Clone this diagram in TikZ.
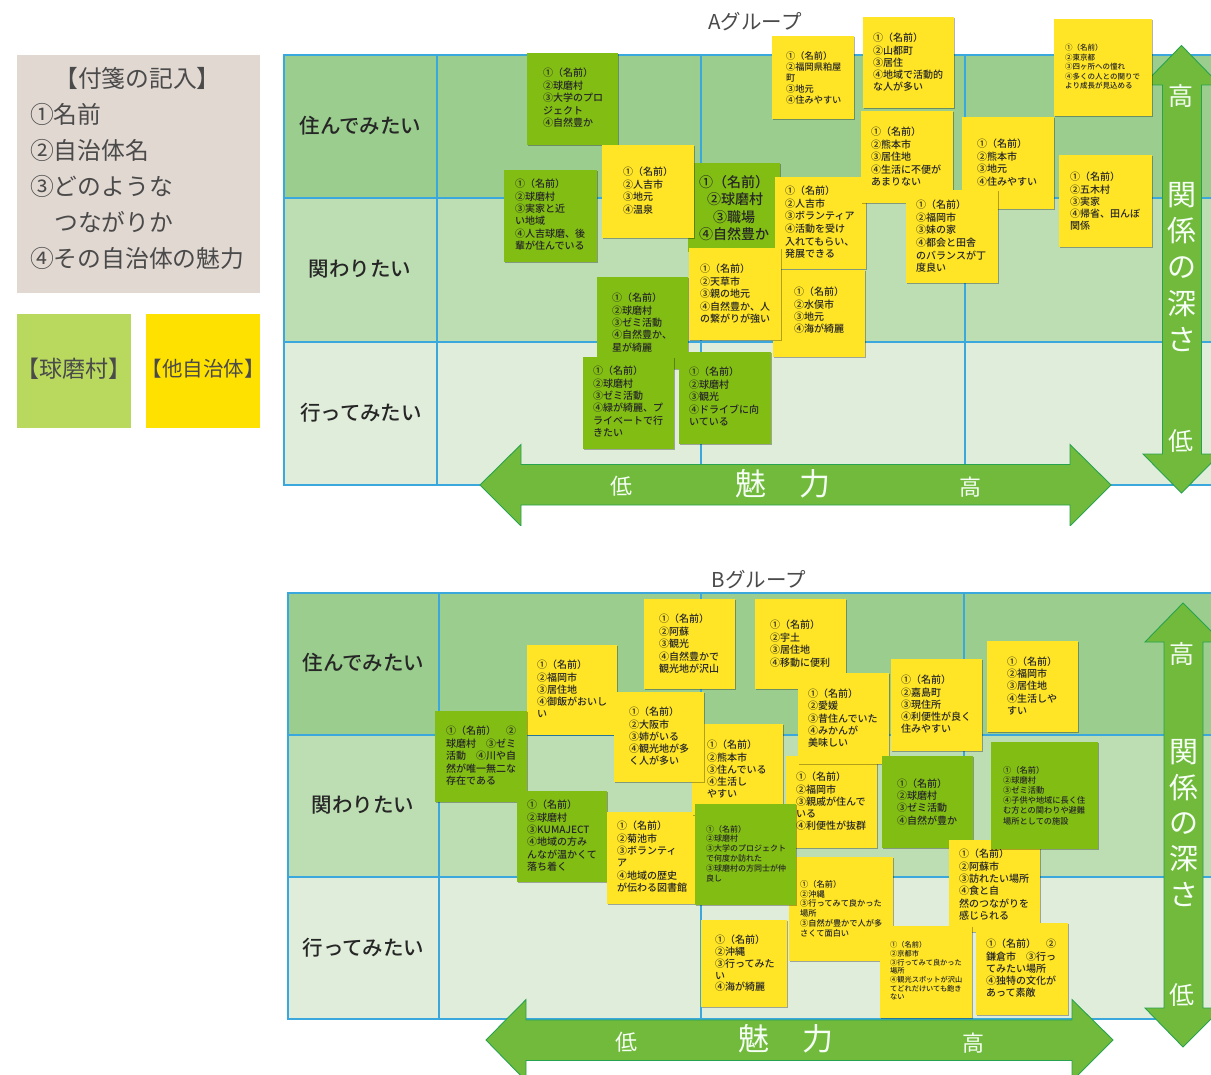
\documentclass[tikz,border=0pt]{standalone}
\usepackage{fontspec}
\setmainfont{Noto Sans CJK JP}
\newfontfamily\notefont{Noto Sans CJK JP Medium}
\newfontfamily\labelfont{Noto Sans CJK JP Medium}
\usetikzlibrary{shadows}
\definecolor{notegreen}{HTML}{82BD14}
\definecolor{noteyellow}{HTML}{FFE526}
\definecolor{panelc}{HTML}{E2D8D2}
\definecolor{keygreen}{HTML}{B8D85E}
\definecolor{keyyellow}{HTML}{FFE100}
\definecolor{rowa}{HTML}{9ACD8E}
\definecolor{rowb}{HTML}{BDDDB3}
\definecolor{rowc}{HTML}{E1EDDB}
\definecolor{gridc}{HTML}{3AA8DC}
\definecolor{arrowf}{HTML}{72BA3C}
\definecolor{arrowd}{HTML}{27A34F}
\definecolor{inkc}{HTML}{4A4A4A}
\tikzset{
 notebox/.style={inner sep=0pt,text=black!85,drop shadow={shadow xshift=.7pt,shadow yshift=-.9pt,opacity=.3,fill=black}},
 panelbox/.style={inner sep=0pt,text=inkc},
 gridline/.style={draw=gridc,line width=1.1pt},
 bigarrow/.style={fill=arrowf,draw=arrowd,line width=.9pt,line join=miter},
 arrowtext/.style={text=white!96!green,inner sep=0pt,font=\fontsize{22}{22}\selectfont},
 rowlabel/.style={text=black!85,inner sep=0pt,font=\labelfont\fontsize{20.5}{20.5}\selectfont},
 titlelabel/.style={text=inkc,inner sep=0pt,font=\fontsize{20.5}{20.5}\selectfont},
 keybox/.style={inner sep=0pt,text=inkc,minimum width=114pt,minimum height=114pt},
}
\def\noteStyle{notebox}
\let\noteFont\notefont
\newcommand\stick[6]{\def\nName{#1}\def\nXa{#2}\def\nYa{#3}\def\nXb{#4}\def\nYb{#5}\def\nFill{#6}\stickrest}
\newcommand\stickrest[5]{%
 \pgfmathsetmacro\nW{\nXb-\nXa}%
 \pgfmathsetmacro\nH{\nYb-\nYa}%
 \pgfmathsetmacro\nL{#3-\nXa}%
 \pgfmathsetmacro\nT{#4-\nYa-0.5*#1}%
 \node[\noteStyle,fill=\nFill,anchor=north west] (\nName) at (\nXa,\nYa) {\parbox[t][\nH pt][t]{\nW pt}{\noteFont\fontsize{#1}{#2}\selectfont\leftskip=\nL pt\relax\rightskip=0pt plus 1fil\relax\lineskiplimit=-100pt\relax\vspace*{\nT pt}#5}};%
}
\newcommand\board[9]{%
 \fill[rowa] (#1,#5) rectangle (#9,#6);
 \fill[rowb] (#1,#6) rectangle (#9,#7);
 \fill[rowc] (#1,#7) rectangle (#9,#8);
 \draw[gridline] (#9,#5) -- (#1,#5) -- (#1,#8) -- (#9,#8);
 \draw[gridline] (#1,#6) -- (#9,#6);
 \draw[gridline] (#1,#7) -- (#9,#7);
 \draw[gridline] (#2,#5) -- (#2,#8);
 \draw[gridline] (#3,#5) -- (#3,#8);
 \draw[gridline] (#4,#5) -- (#4,#8);
}
\begin{document}
\begin{tikzpicture}[x=1pt,y=-1pt]
\useasboundingbox (0,0) rectangle (1211,1075);
\fill[white] (0,0) rectangle (1211,1075);

% ---- legend
\begingroup
\def\noteStyle{panelbox}
\let\noteFont\relax
\stick{panel}{17}{55}{260}{293}{panelc}{23.8}{36}{30}{79}{\hspace*{24pt}【付箋の記入】\\①名前\\②自治体名\\③どのような\\\hspace*{24pt}つながりか\\④その自治体の魅力}
\endgroup
\node[keybox,fill=keygreen] (keyg) at (74,371) {\makebox[114pt][c]{\raisebox{6pt}{\fontsize{23}{23}\selectfont【球磨村】}}};
\node[keybox,fill=keyyellow] (keyy) at (203,371) {\makebox[114pt][c]{\raisebox{6pt}{\fontsize{20.5}{20.5}\selectfont【他自治体】}}};

% ---- boards
\board{284}{437}{701}{965}{55}{198}{342}{485}{1211}
\board{288}{439}{701}{964}{593}{735}{877}{1019}{1211}

\node[titlelabel] (titleA) at (755,22) {Aグループ};
\node[titlelabel] (titleB) at (759,580) {Bグループ};
\node[rowlabel] (ra1) at (360.5,126) {住んでみたい};
\node[rowlabel] (ra2) at (360,269) {関わりたい};
\node[rowlabel] (ra3) at (361,413) {行ってみたい};
\node[rowlabel] (rb1) at (363.5,663) {住んでみたい};
\node[rowlabel] (rb2) at (363,805) {関わりたい};
\node[rowlabel] (rb3) at (363.5,948) {行ってみたい};

% ---- arrows
\begin{scope}
\clip (0,0) rectangle (1211,525);
\draw[bigarrow] (480,485) -- (521,444.5) -- (521,464.5) -- (1070,464.5) -- (1070,444.5) -- (1111,485) -- (1070,526) -- (1070,505) -- (521,505) -- (521,526) -- cycle;
\end{scope}
\draw[bigarrow] (1181.5,45.5) -- (1220,85) -- (1201.5,85) -- (1201.5,454) -- (1220,454) -- (1181.5,493) -- (1143,454) -- (1162.5,454) -- (1162.5,85) -- (1143,85) -- cycle;
\draw[bigarrow] (486,1040) -- (526,999.6) -- (526,1020) -- (1072,1020) -- (1072,999.6) -- (1113,1040) -- (1072,1081) -- (1072,1060.5) -- (526,1060.5) -- (526,1081) -- cycle;
\draw[bigarrow] (1183,603) -- (1222,642) -- (1203,642) -- (1203,1008) -- (1222,1008) -- (1183,1047) -- (1145,1008) -- (1164,1008) -- (1164,642) -- (1145,642) -- cycle;

\node[arrowtext] (ah1) at (621,486) {低};
\node[arrowtext,font=\fontsize{31}{31}\selectfont] (ah2) at (783,484) {魅\hspace{34pt}力};
\node[arrowtext] (ah3) at (970,487) {高};
\node[arrowtext,font=\fontsize{25}{25}\selectfont] (av1) at (1181,96) {高};
\node[arrowtext,font=\fontsize{29}{29}\selectfont] (av2) at (1182,195) {関};
\node[arrowtext,font=\fontsize{29}{29}\selectfont] (av3) at (1182,231) {係};
\node[arrowtext,font=\fontsize{29}{29}\selectfont] (av4) at (1182,268) {の};
\node[arrowtext,font=\fontsize{29}{29}\selectfont] (av5) at (1182,304) {深};
\node[arrowtext,font=\fontsize{29}{29}\selectfont] (av6) at (1182,340) {さ};
\node[arrowtext,font=\fontsize{25}{25}\selectfont] (av7) at (1181,441) {低};

\node[arrowtext] (bh1) at (626,1042) {低};
\node[arrowtext,font=\fontsize{31}{31}\selectfont] (bh2) at (786,1039) {魅\hspace{34pt}力};
\node[arrowtext] (bh3) at (973,1043) {高};
\node[arrowtext,font=\fontsize{25}{25}\selectfont] (bv1) at (1182,654) {高};
\node[arrowtext,font=\fontsize{29}{29}\selectfont] (bv2) at (1184,752) {関};
\node[arrowtext,font=\fontsize{29}{29}\selectfont] (bv3) at (1184,788) {係};
\node[arrowtext,font=\fontsize{29}{29}\selectfont] (bv4) at (1184,824) {の};
\node[arrowtext,font=\fontsize{29}{29}\selectfont] (bv5) at (1184,859) {深};
\node[arrowtext,font=\fontsize{29}{29}\selectfont] (bv6) at (1184,895) {さ};
\node[arrowtext,font=\fontsize{25}{25}\selectfont] (bv7) at (1182,995) {低};

% ---- group A notes
\stick{a1}{527}{53}{618}{145}{notegreen}{10}{12.5}{543}{73}{①（名前）\\②球磨村\\③大学のプロ\\ジェクト\\④自然豊か}
\stick{a3}{504}{170}{597}{262}{notegreen}{10}{12.4}{515}{184}{①（名前）\\②球磨村\\③実家と近\\い地域\\④人吉球磨、後\\輩が住んでいる}
\stick{a4}{688}{163}{780}{252}{notegreen}{14}{17.4}{699}{182}{①（名前）\\\hspace*{8pt}②球磨村\\\hspace*{14pt}③職場\\④自然豊か}
\stick{a2}{602}{145}{694}{238}{noteyellow}{10}{12.5}{623}{172}{①（名前）\\②人吉市\\③地元\\④温泉}
\stick{a12}{775}{177}{866}{269}{noteyellow}{10}{12.6}{785}{191}{①（名前）\\②人吉市\\③ボランティア\\④活動を受け\\入れてもらい、\\発展できる}
\stick{a6}{863}{17}{954}{108}{noteyellow}{10}{12.3}{873}{38}{①（名前）\\②山都町\\③居住\\④地域で活動的\\な人が多い}
\stick{a7}{861}{111}{953}{203}{noteyellow}{10}{12.5}{871}{132}{①（名前）\\②熊本市\\③居住地\\④生活に不便が\\あまりない}
\stick{a8}{962}{117}{1054}{209}{noteyellow}{10}{12.5}{977}{144}{①（名前）\\②熊本市\\③地元\\④住みやすい}
\stick{a9}{906}{190}{998}{283}{noteyellow}{10}{12.6}{916}{205}{①（名前）\\②福岡市\\③妹の家\\④都会と田舎\\のバランスが丁\\度良い}
\stick{a5}{772}{36}{854}{119}{noteyellow}{9.2}{11}{786}{56}{①（名前）\\②福岡県粕屋\\町\\③地元\\④住みやすい}
\stick{a10}{1054}{19}{1152}{116}{noteyellow}{7.5}{9.5}{1065}{48}{①（名前）\\②東京都\\③四ヶ所への憧れ\\④多くの人との関りで\\より成長が見込める}
\stick{a11}{1059}{155}{1152}{247}{noteyellow}{10}{12.3}{1070}{177}{①（名前）\\②五木村\\③実家\\④帰省、田んぼ\\関係}
\stick{a14}{773}{270}{865}{357}{noteyellow}{10}{12.4}{794}{292}{①（名前）\\②水俣市\\③地元\\④海が綺麗}
\stick{a13}{689}{248}{781}{340}{noteyellow}{10}{12.5}{700}{269}{①（名前）\\②天草市\\③親の地元\\④自然豊か、人\\の繋がりが強い}
\stick{a15}{597}{277}{688}{369}{notegreen}{10}{12.4}{612}{298}{①（名前）\\②球磨村\\③ゼミ活動\\④自然豊か、\\星が綺麗}
\stick{a16}{583}{357}{674}{449}{notegreen}{10}{12.4}{593}{371}{①（名前）\\②球磨村\\③ゼミ活動\\④緑が綺麗、プ\\ライベートで行\\きたい}
\stick{a17}{679}{352}{771}{444}{notegreen}{10}{12.5}{689}{372}{①（名前）\\②球磨村\\③観光\\④ドライブに向\\いている}

% ---- group B notes
\stick{b1}{644}{599}{735}{689}{noteyellow}{10}{12.5}{659}{619}{①（名前）\\②阿蘇\\③観光\\④自然豊かで\\観光地が沢山}
\stick{b2}{755}{599}{846}{689}{noteyellow}{10}{12.6}{770}{625}{①（名前）\\②宇土\\③居住地\\④移動に便利}
\stick{b3}{527}{645}{617}{735}{noteyellow}{10}{12.3}{537}{665}{①（名前）\\②福岡市\\③居住地\\④御飯がおいし\\い}
\stick{b4}{435}{711}{527}{802}{notegreen}{10}{12.5}{446}{731}{①（名前）　②\\球磨村　③ゼミ\\活動　④川や自\\然が唯一無二な\\存在である}
\stick{b7}{517}{791}{607}{882}{notegreen}{10}{12.4}{527}{805}{①（名前）\\②球磨村\\③KUMAJECT\\④地域の方み\\んなが温かくて\\落ち着く}
\stick{b8}{607}{812}{698}{904}{noteyellow}{10}{12.4}{617}{826}{①（名前）\\②菊池市\\③ボランティ\\ア\\④地域の歴史\\が伝わる図書館}
\stick{b6}{692}{724}{783}{815}{noteyellow}{10}{12.3}{707}{745}{①（名前）\\②熊本市\\③住んでいる\\④生活し\\やすい}
\stick{b5}{614}{692}{704}{782}{noteyellow}{10}{12.3}{629}{712}{①（名前）\\②大阪市\\③姉がいる\\④観光地が多\\く人が多い}
\stick{b13}{786}{756}{877}{848}{noteyellow}{10}{12.3}{796}{777}{①（名前）\\②福岡市\\③親戚が住んで\\いる\\④利便性が抜群}
\stick{b10}{798}{673}{889}{764}{noteyellow}{10}{12.2}{808}{694}{①（名前）\\②愛媛\\③昔住んでいた\\④みかんが\\美味しい}
\stick{b11}{891}{659}{982}{751}{noteyellow}{10}{12.3}{901}{680}{①（名前）\\②嘉島町\\③現住所\\④利便性が良く\\住みやすい}
\stick{b12}{987}{641}{1078}{732}{noteyellow}{10}{12.1}{1007}{662}{①（名前）\\②福岡市\\③居住地\\④生活しや\\すい}
\stick{b14}{882}{756}{973}{848}{notegreen}{10}{12.1}{897}{784}{①（名前）\\②球磨村\\③ゼミ活動\\④自然が豊か}
\stick{b16}{949}{840}{1040}{932}{noteyellow}{10}{12.4}{959}{854}{①（名前）\\②阿蘇市\\③訪れたい場所\\④食と自\\然のつながりを\\感じられる}
\stick{b15}{991}{742}{1098}{849}{notegreen}{8.2}{10.2}{1003}{770}{①（名前）\\②球磨村\\③ゼミ活動\\④子供や地域に長く住\\む方との関わりや避難\\場所としての施設}
\stick{b17}{789}{857}{893}{961}{noteyellow}{8.2}{9.9}{800}{884}{①（名前）\\②沖縄\\③行ってみて良かった\\場所\\③自然が豊かで人が多\\さくて面白い}
\stick{b9}{695}{804}{796}{905}{notegreen}{8}{9.8}{706}{829}{①（名前）\\②球磨村\\③大学のプロジェクト\\で何度か訪れた\\③球磨村の方同士が仲\\良し}
\stick{b18}{701}{920}{787}{1007}{noteyellow}{10}{11.8}{715}{940}{①（名前）\\②沖縄\\③行ってみた\\い\\④海が綺麗}
\stick{b19}{880}{926}{972}{1018}{noteyellow}{7.2}{8.7}{890}{945}{①（名前）\\②京都市\\③行ってみて良かった\\場所\\④観光スポットが沢山\\てどれだけいても飽き\\ない}
\stick{b20}{976}{923}{1068}{1015}{noteyellow}{10}{12.3}{986}{944}{①（名前）　②\\鎌倉市　③行っ\\てみたい場所\\④独特の文化が\\あって素敵}
\end{tikzpicture}
\end{document}
